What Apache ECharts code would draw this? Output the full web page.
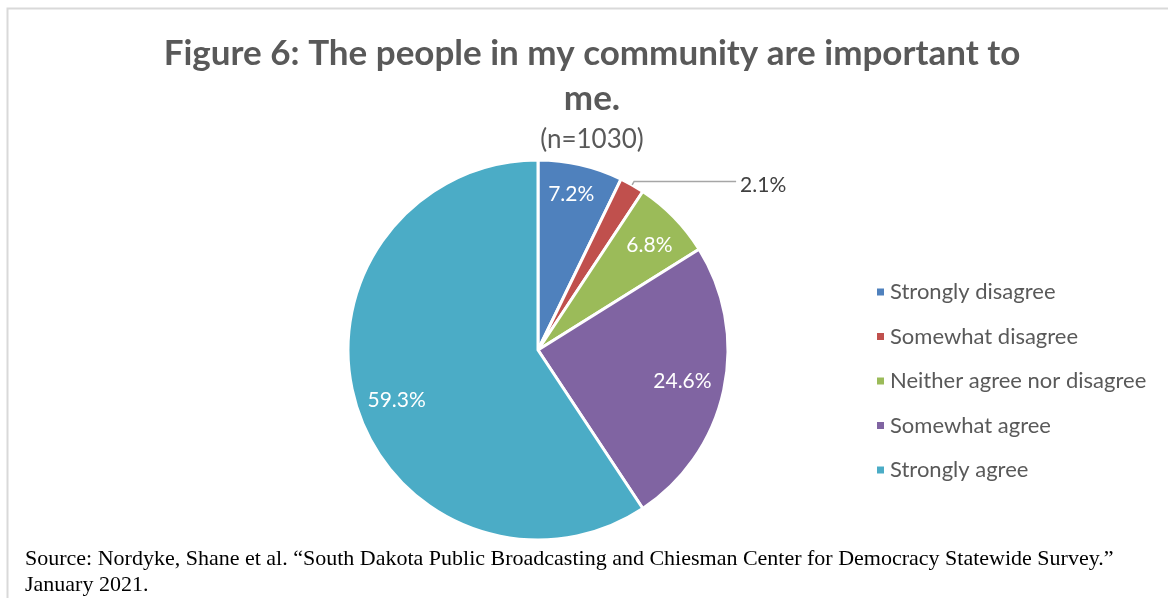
<!DOCTYPE html>
<html>
<head>
<meta charset="utf-8">
<script src="https://cdn.jsdelivr.net/npm/echarts@6/dist/echarts.min.js"></script>
<style>
  html, body { margin: 0; padding: 0; background: #fff; }
  #chart { width: 1168px; height: 598px; }
</style>
</head>
<body>
<div id="chart"></div>
<script>
// Survey responses, share of respondents (%)
const categories = [
  'Strongly disagree',
  'Somewhat disagree',
  'Neither agree nor disagree',
  'Somewhat agree',
  'Strongly agree'
];
const shares = [7.2, 2.1, 6.8, 24.6, 59.3];
const palette = ['#4F81BD', '#C0504D', '#9BBB59', '#8064A2', '#4BACC6'];

const titleText = 'Figure 6: The people in my community are important to\nme.';
const subtitleText = '(n=1030)';
const sourceText = 'Source: Nordyke, Shane et al. \u201cSouth Dakota Public Broadcasting and Chiesman Center for Democracy Statewide Survey.\u201d\nJanuary 2021.';

const uiFont = 'Lato, "Open Sans", sans-serif';

// Fine nudges (px) for the value labels, by slice order
const labelNudge = [[-2, -3], [0, 4], [-1, 5], [-9, -2], [9, 5]];

const slices = categories.map((name, i) => ({
  name,
  value: shares[i],
  itemStyle: { color: palette[i] }
}));

// Label carrier ring: transparent, so its inside labels sit at ~80% of the radius
const labelSlices = categories.map((name, i) => {
  const small = shares[i] < 3;
  return {
    name,
    value: shares[i],
    label: small
      ? { position: 'outside', color: '#404040', fontSize: 21, distanceToLabelLine: 4 }
      : { position: 'inside', color: '#ffffff', fontSize: 21 },
    labelLine: small
      ? { show: true, length: 4, length2: 102, lineStyle: { color: '#a6a6a6', width: 1.5 } }
      : { show: false }
  };
});

const chart = echarts.init(document.getElementById('chart'), null, { renderer: 'canvas' });

chart.setOption({
  animation: false,
  backgroundColor: '#ffffff',
  title: [
    {
      text: titleText,
      left: 587, top: 26,
      textAlign: 'center',
      textStyle: {
        fontFamily: uiFont, fontSize: 35, fontWeight: 'bold',
        color: '#595959', lineHeight: 45, align: 'center'
      }
    },
    {
      text: subtitleText,
      left: 587, top: 122,
      textAlign: 'center',
      textStyle: { fontFamily: uiFont, fontSize: 26, fontWeight: 'normal', color: '#595959' }
    },
    {
      text: sourceText,
      left: 20, top: 541,
      textStyle: {
        fontFamily: '"Liberation Serif", "DejaVu Serif", serif',
        fontSize: 22, fontWeight: 'normal', color: '#000000', lineHeight: 26
      }
    }
  ],
  legend: {
    orient: 'vertical',
    left: 870, top: 276,
    icon: 'rect',
    itemWidth: 9, itemHeight: 9,
    itemGap: 22.5,
    selectedMode: false,
    data: categories,
    textStyle: { fontFamily: uiFont, fontSize: 22, color: '#595959', lineHeight: 22 }
  },
  graphic: [
    {
      type: 'rect',
      shape: { x: 7.5, y: 8.5, width: 1200, height: 700 },
      style: { fill: 'none', stroke: '#d9d9d9', lineWidth: 2 },
      silent: true, z: -10
    }
  ],
  series: [
    {
      type: 'pie',
      center: [538, 350],
      radius: [0, 190],
      startAngle: 90,
      clockwise: true,
      silent: true,
      label: { show: false },
      labelLine: { show: false },
      itemStyle: { borderColor: '#ffffff', borderWidth: 3 },
      data: slices
    },
    {
      type: 'pie',
      center: [538, 350],
      radius: [118, 190],
      startAngle: 90,
      clockwise: true,
      silent: true,
      z: 3,
      itemStyle: { color: 'rgba(0,0,0,0)', borderWidth: 0 },
      label: {
        show: true,
        formatter: (p) => p.value.toFixed(1) + '%',
        fontFamily: uiFont
      },
      labelLayout: (p) => {
        const n = labelNudge[p.dataIndex] || [0, 0];
        return { dx: n[0], dy: n[1] };
      },
      data: labelSlices
    }
  ]
});
</script>
</body>
</html>
